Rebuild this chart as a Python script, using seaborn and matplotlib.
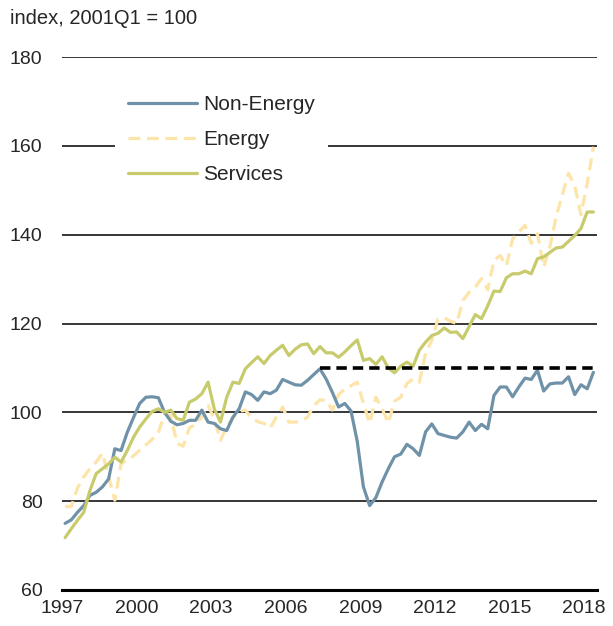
import numpy as np
import pandas as pd
import matplotlib
matplotlib.use("Agg")
import matplotlib.pyplot as plt
import seaborn as sns

# ---- data (quarterly, 1997Q1 .. 2018Q2, plotted at quarter mid-points) ----
start_year = 1997
n_quarters = 86
quarters = start_year + 0.125 + 0.25 * np.arange(n_quarters)

non_energy = [
    75.0, 75.8, 77.5, 79.0, 81.3, 82.0, 83.2, 85.0, 91.8, 91.4,
    95.5, 98.8, 102.0, 103.4, 103.5, 103.3, 100.0, 98.0, 97.2, 97.5,
    98.2, 98.2, 100.5, 97.8, 97.5, 96.3, 95.9, 98.9, 100.8, 104.6,
    104.0, 102.7, 104.6, 104.2, 105.0, 107.4, 106.8, 106.2, 106.1, 107.2,
    108.5, 109.8, 107.5, 104.5, 101.2, 102.0, 100.3, 93.5, 83.2, 79.0,
    80.8, 84.3, 87.3, 90.0, 90.6, 92.8, 91.8, 90.3, 95.6, 97.4,
    95.2, 94.8, 94.4, 94.2, 95.6, 97.8, 95.9, 97.3, 96.3, 103.8,
    105.7, 105.7, 103.5, 105.7, 107.7, 107.4, 109.5, 104.8, 106.4, 106.6,
    106.6, 108.0, 104.0, 106.2, 105.3, 109.0,
]
energy = [
    78.8, 78.8, 83.0, 85.5, 87.3, 88.8, 90.8, 85.5, 80.2, 88.4,
    89.3, 90.2, 91.5, 92.7, 93.9, 95.4, 99.7, 99.2, 93.0, 92.4,
    96.5, 97.3, 99.0, 101.6, 98.5, 93.7, 96.8, 98.8, 100.2, 100.5,
    98.8, 97.9, 97.5, 96.5, 99.0, 101.2, 97.8, 97.8, 98.0, 98.9,
    101.5, 102.8, 102.7, 100.5, 104.0, 105.2, 106.0, 106.8, 102.0, 97.5,
    103.4, 100.8, 97.6, 102.5, 103.4, 106.5, 107.5, 106.8, 113.3, 116.2,
    121.0, 121.3, 120.5, 120.0, 125.2, 127.0, 128.2, 130.1, 127.6, 134.2,
    135.3, 133.0, 139.0, 140.6, 142.1, 138.0, 140.2, 132.7, 137.2, 144.0,
    149.0, 153.8, 151.0, 144.5, 151.5, 159.8,
]
services = [
    71.8, 73.8, 75.7, 77.5, 82.4, 86.2, 87.3, 88.4, 89.9, 88.8,
    91.4, 94.4, 96.7, 98.5, 100.2, 100.8, 100.0, 100.5, 98.6, 98.2,
    102.3, 103.0, 104.2, 106.8, 100.8, 97.8, 103.4, 106.8, 106.5, 109.8,
    111.2, 112.5, 111.0, 112.8, 114.0, 115.1, 112.8, 114.2, 115.2, 115.4,
    113.2, 114.8, 113.4, 113.4, 112.4, 113.6, 115.0, 116.3, 111.7, 112.1,
    110.8, 112.5, 110.0, 108.9, 110.4, 111.3, 110.4, 114.0, 115.8, 117.3,
    117.8, 119.0, 118.0, 118.1, 116.6, 119.3, 122.0, 121.1, 124.0, 127.3,
    127.2, 130.3, 131.2, 131.2, 131.8, 131.2, 134.6, 135.0, 136.0, 137.0,
    137.2, 138.5, 139.8, 141.4, 145.1, 145.1,
]

# reference (pre-recession peak level)
ref_level = 110
ref_start = quarters[41]
ref_end = quarters[-1]

series_names = ["Non-Energy", "Energy", "Services"]
colors = {"Non-Energy": "#7092A9", "Energy": "#FDE4A8", "Services": "#C8CB6C"}

x_ticks = [1997, 2000, 2003, 2006, 2009, 2012, 2015, 2018]
y_ticks = [60, 80, 100, 120, 140, 160, 180]
y_label = "index, 2001Q1 = 100"

df = pd.DataFrame({
    "quarter": np.tile(quarters, 3),
    "value": non_energy + energy + services,
    "series": np.repeat(series_names, n_quarters),
})

# ---- plot ----
sns.set_style("white")
plt.rcParams["font.family"] = ["Liberation Sans", "DejaVu Sans"]
plt.rcParams["lines.scale_dashes"] = False

fig = plt.figure(figsize=(6.13, 6.26), dpi=100)
ax = fig.add_axes([62 / 613, 1 - 590 / 626, (597 - 62) / 613, (590 - 57) / 626])

for yv in y_ticks[1:]:
    ax.axhline(yv, color="black", lw=1.1, zorder=1)

for name in series_names:
    sub = df[df["series"] == name]
    kw = dict(color=colors[name], linewidth=2.3)
    if name == "Energy":
        kw["dashes"] = (8.5, 4.8)
    sns.lineplot(data=sub, x="quarter", y="value", ax=ax, label=name,
                 zorder=3 if name != "Energy" else 2, **kw)

ax.plot([ref_start, ref_end], [ref_level, ref_level], color="black",
        lw=2.6, dashes=(7.5, 4.3), zorder=4)

ax.set_xlim(1997, 2018.52)
ax.set_ylim(60, 180)
ax.set_xticks(x_ticks)
ax.set_yticks(y_ticks)
ax.set_xlabel("")
ax.set_ylabel("")
ax.tick_params(axis="x", direction="out", length=5, width=2, color="black",
               labelsize=14, pad=2)
ax.tick_params(axis="y", length=0, labelsize=14, pad=14)
for s in ["top", "right", "left"]:
    ax.spines[s].set_visible(False)
ax.spines["bottom"].set_linewidth(2.2)
ax.spines["bottom"].set_color("black")

fig.text(10 / 613, 1 - 18 / 626, y_label, fontsize=14.5, va="center", ha="left")

fs_leg = 15
fs_px = fs_leg * 100 / 72
leg = ax.legend(loc="upper left", bbox_to_anchor=(115 / 613, 1 - 82 / 626),
                bbox_transform=fig.transFigure, borderaxespad=0,
                frameon=True, facecolor="white", edgecolor="none", framealpha=1,
                fancybox=False, fontsize=fs_leg, handlelength=69 / fs_px,
                handletextpad=6 / fs_px, labelspacing=0.77,
                borderpad=13 / fs_px)
leg.set_zorder(6)

fig.savefig("out.png", dpi=100)
